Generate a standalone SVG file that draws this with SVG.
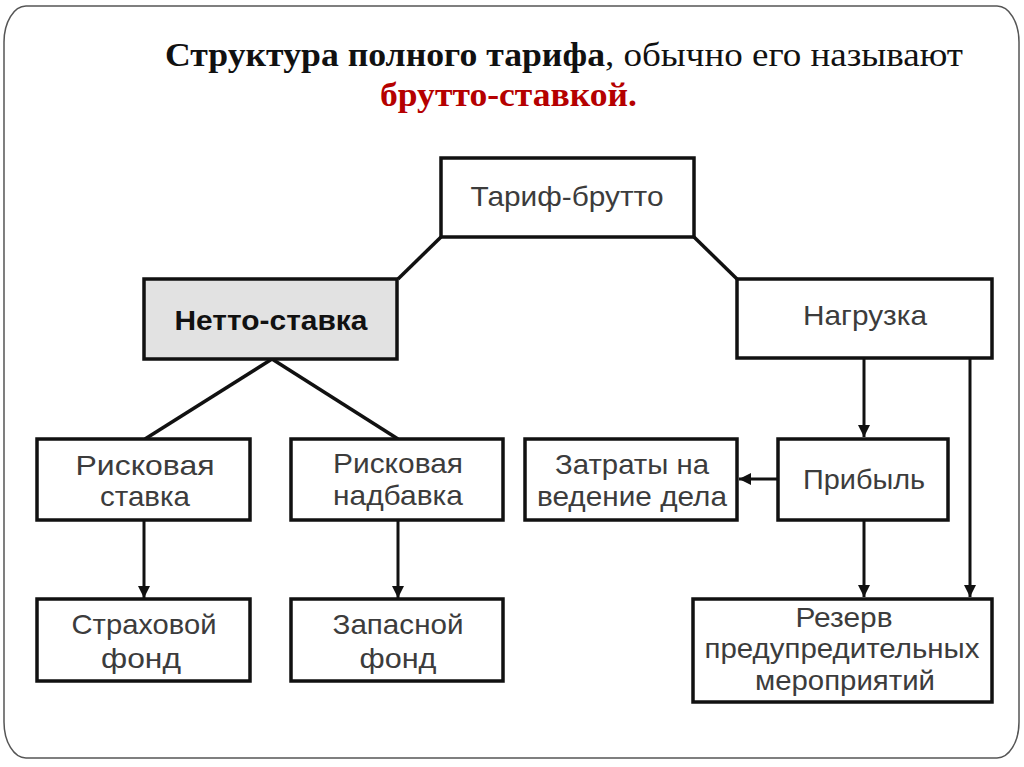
<svg xmlns="http://www.w3.org/2000/svg" width="1024" height="767" viewBox="0 0 1024 767">
<defs>
<marker id="ah" viewBox="0 0 12 12" refX="12" refY="6" markerWidth="12" markerHeight="12" markerUnits="userSpaceOnUse" orient="auto">
<path d="M0,0 L12,6 L0,12 z" fill="#111"/>
</marker>
<style>
.box{fill:#fff;stroke:#111;stroke-width:3.5}
.gray{fill:#e2e2e2}
.t{font-family:"Liberation Sans",Arial,sans-serif;font-size:28px;fill:#3c3c3c;text-anchor:middle}
.b{font-weight:bold;fill:#111}
.ln{stroke:#111;stroke-width:3.5;fill:none}
.ar{stroke:#111;stroke-width:3;fill:none;marker-end:url(#ah)}
.title{font-family:"Liberation Serif","Times New Roman",serif;font-size:33px}
</style>
</defs>
<rect width="1024" height="767" fill="#fff"/>
<rect x="4" y="6" width="1015" height="752" rx="22" ry="36" fill="none" stroke="#555" stroke-width="1.5"/>

<g id="title">
<text class="title" x="165" y="66" font-weight="bold" fill="#111" textLength="440" lengthAdjust="spacingAndGlyphs">Структура полного тарифа</text>
<text class="title" x="605" y="66" fill="#111" textLength="358" lengthAdjust="spacingAndGlyphs">, обычно его называют</text>
<text class="title" x="380" y="106" font-weight="bold" fill="#b50000" textLength="257" lengthAdjust="spacingAndGlyphs">брутто-ставкой.</text>
</g>

<g id="connectors">
<line class="ln" x1="441" y1="237" x2="398" y2="279"/>
<line class="ln" x1="694" y1="237" x2="737" y2="279"/>
<line class="ln" x1="272" y1="359" x2="145" y2="439"/>
<line class="ln" x1="272" y1="359" x2="398" y2="439"/>
<line class="ar" x1="144" y1="521" x2="144" y2="598"/>
<line class="ar" x1="398" y1="521" x2="398" y2="598"/>
<line class="ar" x1="864" y1="359" x2="864" y2="437"/>
<line class="ar" x1="970" y1="359" x2="970" y2="597"/>
<line class="ar" x1="864" y1="521" x2="864" y2="597"/>
<line class="ar" x1="778" y1="479" x2="739" y2="479"/>
</g>

<g id="n-tarif">
<rect class="box" x="441" y="158" width="253" height="79"/>
<text class="t" x="567" y="206" textLength="193" lengthAdjust="spacingAndGlyphs">Тариф-брутто</text>
</g>
<g id="n-netto">
<rect class="box gray" x="144" y="279" width="253" height="80"/>
<text class="t b" x="271" y="330" textLength="193" lengthAdjust="spacingAndGlyphs">Нетто-ставка</text>
</g>
<g id="n-nagruzka">
<rect class="box" x="737" y="279" width="255" height="79"/>
<text class="t" x="865" y="325" textLength="124" lengthAdjust="spacingAndGlyphs">Нагрузка</text>
</g>
<g id="n-risk-stavka">
<rect class="box" x="37" y="439" width="213" height="81"/>
<text class="t" x="145" y="475" textLength="139" lengthAdjust="spacingAndGlyphs">Рисковая</text>
<text class="t" x="145" y="506" textLength="90" lengthAdjust="spacingAndGlyphs">ставка</text>
</g>
<g id="n-risk-nadbavka">
<rect class="box" x="291" y="439" width="212" height="81"/>
<text class="t" x="398" y="473" textLength="130" lengthAdjust="spacingAndGlyphs">Рисковая</text>
<text class="t" x="398" y="505" textLength="130" lengthAdjust="spacingAndGlyphs">надбавка</text>
</g>
<g id="n-strah">
<rect class="box" x="37" y="599" width="213" height="82"/>
<text class="t" x="144" y="634" textLength="145" lengthAdjust="spacingAndGlyphs">Страховой</text>
<text class="t" x="141" y="668" textLength="80" lengthAdjust="spacingAndGlyphs">фонд</text>
</g>
<g id="n-zapas">
<rect class="box" x="291" y="599" width="212" height="82"/>
<text class="t" x="398" y="634" textLength="131" lengthAdjust="spacingAndGlyphs">Запасной</text>
<text class="t" x="398" y="668" textLength="77" lengthAdjust="spacingAndGlyphs">фонд</text>
</g>
<g id="n-zatraty">
<rect class="box" x="525" y="439" width="212" height="81"/>
<text class="t" x="632" y="474" textLength="154" lengthAdjust="spacingAndGlyphs">Затраты на</text>
<text class="t" x="632" y="506" textLength="190" lengthAdjust="spacingAndGlyphs">ведение дела</text>
</g>
<g id="n-pribyl">
<rect class="box" x="778" y="439" width="170" height="81"/>
<text class="t" x="864" y="489" textLength="122" lengthAdjust="spacingAndGlyphs">Прибыль</text>
</g>
<g id="n-rezerv">
<rect class="box" x="693" y="599" width="299" height="103"/>
<text class="t" x="844" y="627" textLength="97" lengthAdjust="spacingAndGlyphs">Резерв</text>
<text class="t" x="842" y="658" textLength="275" lengthAdjust="spacingAndGlyphs">предупредительных</text>
<text class="t" x="845" y="690" textLength="180" lengthAdjust="spacingAndGlyphs">мероприятий</text>
</g>
</svg>
